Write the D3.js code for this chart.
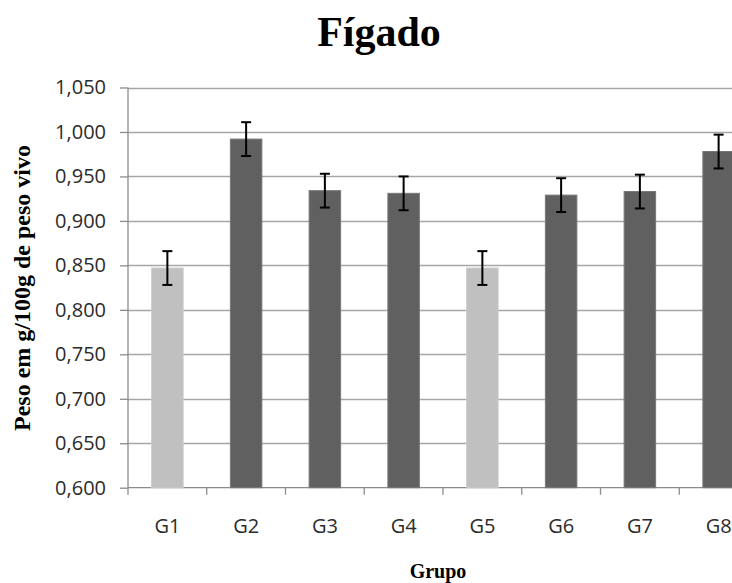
<!DOCTYPE html>
<html>
<head>
<meta charset="utf-8">
<title>Fígado</title>
<script src="https://d3js.org/d3.v7.min.js"></script>
<style>
  body { margin: 0; background: #fff; }
</style>
</head>
<body>
<script>
// data
var groups = ["G1", "G2", "G3", "G4", "G5", "G6", "G7", "G8"];
var values = [0.847, 0.992, 0.934, 0.931, 0.847, 0.929, 0.933, 0.978];
var errors = [0.019, 0.019, 0.019, 0.019, 0.019, 0.019, 0.019, 0.019];
var controlGroups = ["G1", "G5"];
var yTicks = [0.600, 0.650, 0.700, 0.750, 0.800, 0.850, 0.900, 0.950, 1.000, 1.050];

var width = 732, height = 583;
var plot = {left: 128, top: 87.5, bottom: 487.7, right: 758};

var svg = d3.select("body").append("svg")
    .attr("width", width)
    .attr("height", height);

var x = d3.scaleBand().domain(groups).range([plot.left, plot.right]);
var y = d3.scaleLinear().domain([0.6, 1.05]).range([plot.bottom, plot.top]);

var fmt = function(d) { return d3.format(".3f")(d).replace(".", ","); };

// gridlines
svg.append("g").selectAll("line").data(yTicks.slice(1)).enter().append("line")
    .attr("x1", plot.left).attr("x2", width)
    .attr("y1", function(d) { return Math.round(y(d)) + 0.5; })
    .attr("y2", function(d) { return Math.round(y(d)) + 0.5; })
    .attr("stroke", "#a6a6a6").attr("stroke-width", 1.3);

// y axis
var yAxis = d3.axisLeft(y).tickValues(yTicks).tickSize(8).tickPadding(14).tickFormat(fmt);
var yg = svg.append("g").attr("transform", "translate(" + plot.left + ",0)").call(yAxis);
yg.select(".domain").attr("stroke", "#8c8c8c").attr("stroke-width", 1.3).attr("d", "M0," + plot.top + "V" + plot.bottom);
yg.selectAll(".tick line").attr("stroke", "#8c8c8c").attr("stroke-width", 1.3);
yg.selectAll(".tick text")
    .attr("fill", "#2b2b2b")
    .style("font-family", "'Open Sans', sans-serif")
    .style("font-size", "20px");

// x axis, ticks on category boundaries
var xg = svg.append("g").attr("transform", "translate(0," + plot.bottom + ")");
xg.append("line").attr("x1", plot.left).attr("x2", width).attr("y1", 0).attr("y2", 0)
    .attr("stroke", "#8c8c8c").attr("stroke-width", 1.3);
xg.selectAll(".xt").data(groups).enter().append("line")
    .attr("x1", function(d) { return x(d); }).attr("x2", function(d) { return x(d); })
    .attr("y1", 0).attr("y2", 7)
    .attr("stroke", "#8c8c8c").attr("stroke-width", 1.3);
xg.selectAll(".xl").data(groups).enter().append("text")
    .attr("x", function(d) { return x(d) + x.bandwidth() / 2; })
    .attr("y", 45.5)
    .attr("text-anchor", "middle")
    .attr("fill", "#2b2b2b")
    .style("font-family", "'Open Sans', sans-serif")
    .style("font-size", "20px")
    .text(function(d) { return d; });

// bars
var barW = x.bandwidth() * 0.4;
svg.append("g").selectAll("rect").data(groups).enter().append("rect")
    .attr("x", function(d) { return x(d) + (x.bandwidth() - barW) / 2; })
    .attr("width", barW)
    .attr("y", function(d, i) { return y(values[i]); })
    .attr("height", function(d, i) { return plot.bottom - y(values[i]); })
    .attr("fill", function(d) { return controlGroups.indexOf(d) >= 0 ? "#c0c0c0" : "#606060"; })
    .attr("stroke", function(d) { return controlGroups.indexOf(d) >= 0 ? "#cccccc" : "#777777"; })
    .attr("stroke-width", 1);

// error bars
var eb = svg.append("g").attr("stroke", "#000").attr("stroke-width", 2);
groups.forEach(function(g, i) {
  var cx = x(g) + x.bandwidth() / 2;
  var y1 = y(values[i] + errors[i]), y2 = y(values[i] - errors[i]);
  eb.append("line").attr("x1", cx).attr("x2", cx).attr("y1", y1).attr("y2", y2);
  eb.append("line").attr("x1", cx - 5).attr("x2", cx + 5).attr("y1", y1).attr("y2", y1);
  eb.append("line").attr("x1", cx - 5).attr("x2", cx + 5).attr("y1", y2).attr("y2", y2);
});

// titles
svg.append("text").attr("x", 379).attr("y", 46)
    .attr("text-anchor", "middle")
    .style("font-family", "'Liberation Serif', serif")
    .style("font-weight", "bold").style("font-size", "42px")
    .text("Fígado");

svg.append("text").attr("x", 438).attr("y", 578)
    .attr("text-anchor", "middle")
    .style("font-family", "'Liberation Serif', serif")
    .style("font-weight", "bold").style("font-size", "20px")
    .text("Grupo");

svg.append("text")
    .attr("transform", "translate(30,288) rotate(-90)")
    .attr("text-anchor", "middle")
    .style("font-family", "'Liberation Serif', serif")
    .style("font-weight", "bold").style("font-size", "24px")
    .text("Peso em g/100g de peso vivo");
</script>
</body>
</html>
